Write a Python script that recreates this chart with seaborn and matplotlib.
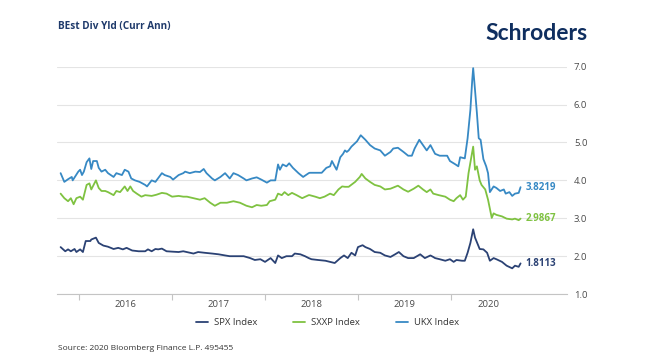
import matplotlib
matplotlib.use("Agg")
import matplotlib.pyplot as plt
import seaborn as sns
import pandas as pd
from matplotlib.lines import Line2D

# ---------------- data (decimal years, yield %) ----------------
ukx_t = [2015.80, 2015.84, 2015.88, 2015.92, 2015.93, 2015.99, 2016.01, 2016.03, 2016.05, 2016.08,
         2016.11, 2016.13, 2016.15, 2016.19, 2016.21, 2016.24, 2016.28, 2016.31, 2016.37, 2016.40,
         2016.46, 2016.49, 2016.53, 2016.56, 2016.60, 2016.65, 2016.71, 2016.73, 2016.78, 2016.82,
         2016.89, 2016.92, 2016.98, 2017.01, 2017.07, 2017.12, 2017.14, 2017.19, 2017.25, 2017.30,
         2017.34, 2017.37, 2017.43, 2017.46, 2017.52, 2017.57, 2017.62, 2017.66, 2017.71, 2017.77,
         2017.80, 2017.86, 2017.91, 2017.96, 2018.02, 2018.06, 2018.11, 2018.14, 2018.16, 2018.19,
         2018.23, 2018.26, 2018.30, 2018.36, 2018.41, 2018.47, 2018.48, 2018.61, 2018.66, 2018.70,
         2018.72, 2018.75, 2018.77, 2018.81, 2018.84, 2018.86, 2018.88, 2018.90, 2018.93, 2018.99,
         2019.03, 2019.08, 2019.13, 2019.18, 2019.24, 2019.29, 2019.35, 2019.38, 2019.43, 2019.49,
         2019.54, 2019.58, 2019.61, 2019.66, 2019.70, 2019.74, 2019.78, 2019.83, 2019.88, 2019.96,
         2019.99, 2020.05, 2020.08, 2020.10, 2020.15, 2020.18, 2020.21, 2020.23, 2020.24, 2020.26,
         2020.28, 2020.30, 2020.32, 2020.35, 2020.38, 2020.40, 2020.42, 2020.46, 2020.49, 2020.53,
         2020.57, 2020.59, 2020.63, 2020.66, 2020.69, 2020.73, 2020.75]
ukx_v = [4.19, 3.96, 4.03, 4.09, 4.00, 4.23, 4.28, 4.14, 4.23, 4.48,
         4.58, 4.30, 4.51, 4.51, 4.33, 4.23, 4.28, 4.19, 4.09, 4.19,
         4.14, 4.28, 4.23, 4.05, 4.00, 3.96, 3.88, 3.84, 4.00, 3.96,
         4.19, 4.14, 4.09, 4.02, 4.14, 4.19, 4.23, 4.19, 4.23, 4.22,
         4.30, 4.19, 4.05, 4.00, 4.09, 4.19, 4.05, 4.19, 4.14, 4.05,
         4.00, 4.05, 4.08, 4.02, 3.94, 4.00, 4.00, 4.42, 4.28, 4.42,
         4.37, 4.45, 4.33, 4.19, 4.09, 4.19, 4.20, 4.20, 4.33, 4.37,
         4.51, 4.37, 4.28, 4.61, 4.70, 4.79, 4.75, 4.79, 4.89, 5.03,
         5.19, 5.07, 4.93, 4.84, 4.79, 4.65, 4.75, 4.84, 4.86, 4.75,
         4.65, 4.65, 4.84, 5.07, 4.93, 4.79, 4.93, 4.70, 4.65, 4.65,
         4.51, 4.42, 4.37, 4.61, 4.58, 5.11, 5.86, 6.65, 6.96, 6.38,
         5.78, 5.11, 5.07, 4.56, 4.37, 4.19, 3.69, 3.84, 3.80, 3.72,
         3.76, 3.65, 3.69, 3.59, 3.65, 3.67, 3.82]

sxxp_t = [2015.80, 2015.84, 2015.88, 2015.91, 2015.94, 2015.97, 2016.01, 2016.04, 2016.08, 2016.11,
          2016.13, 2016.18, 2016.21, 2016.24, 2016.28, 2016.31, 2016.37, 2016.40, 2016.44, 2016.49,
          2016.52, 2016.55, 2016.58, 2016.62, 2016.67, 2016.71, 2016.78, 2016.83, 2016.89, 2016.94,
          2017.00, 2017.07, 2017.12, 2017.16, 2017.23, 2017.30, 2017.35, 2017.41, 2017.46, 2017.52,
          2017.59, 2017.66, 2017.73, 2017.80, 2017.86, 2017.91, 2017.96, 2018.02, 2018.05, 2018.11,
          2018.14, 2018.18, 2018.21, 2018.25, 2018.29, 2018.34, 2018.40, 2018.47, 2018.48, 2018.54,
          2018.59, 2018.64, 2018.70, 2018.74, 2018.79, 2018.83, 2018.86, 2018.90, 2018.97, 2019.02,
          2019.04, 2019.08, 2019.13, 2019.18, 2019.24, 2019.29, 2019.35, 2019.40, 2019.43, 2019.49,
          2019.54, 2019.60, 2019.65, 2019.70, 2019.74, 2019.78, 2019.81, 2019.87, 2019.94, 2019.99,
          2020.03, 2020.06, 2020.10, 2020.13, 2020.16, 2020.19, 2020.21, 2020.24, 2020.26, 2020.28,
          2020.31, 2020.33, 2020.37, 2020.40, 2020.44, 2020.46, 2020.49, 2020.55, 2020.60, 2020.66,
          2020.69, 2020.73, 2020.75]
sxxp_v = [3.65, 3.53, 3.45, 3.53, 3.37, 3.53, 3.57, 3.49, 3.88, 3.92,
          3.76, 4.00, 3.80, 3.72, 3.72, 3.69, 3.61, 3.72, 3.69, 3.84,
          3.72, 3.84, 3.72, 3.65, 3.57, 3.61, 3.59, 3.62, 3.67, 3.65,
          3.57, 3.59, 3.57, 3.57, 3.53, 3.49, 3.53, 3.41, 3.33, 3.41,
          3.41, 3.45, 3.41, 3.33, 3.29, 3.35, 3.33, 3.35, 3.45, 3.49,
          3.65, 3.61, 3.69, 3.61, 3.67, 3.61, 3.53, 3.61, 3.61, 3.57,
          3.53, 3.57, 3.65, 3.61, 3.76, 3.84, 3.83, 3.83, 3.96, 4.09,
          4.17, 4.05, 3.96, 3.88, 3.84, 3.76, 3.78, 3.83, 3.86, 3.76,
          3.70, 3.78, 3.86, 3.76, 3.69, 3.76, 3.65, 3.61, 3.57, 3.49,
          3.45, 3.53, 3.61, 3.49, 3.57, 4.19, 4.47, 4.89, 4.28, 4.37,
          4.00, 3.88, 3.76, 3.49, 3.01, 3.13, 3.09, 3.05, 2.99, 2.97,
          2.99, 2.95, 2.99]

spx_t = [2015.80, 2015.85, 2015.88, 2015.91, 2015.95, 2015.97, 2016.01, 2016.04, 2016.07, 2016.12,
         2016.13, 2016.18, 2016.21, 2016.26, 2016.31, 2016.37, 2016.42, 2016.47, 2016.51, 2016.57,
         2016.64, 2016.71, 2016.74, 2016.78, 2016.82, 2016.85, 2016.89, 2016.94, 2017.00, 2017.07,
         2017.12, 2017.23, 2017.28, 2017.35, 2017.43, 2017.50, 2017.57, 2017.62, 2017.70, 2017.77,
         2017.84, 2017.89, 2017.95, 2018.00, 2018.06, 2018.11, 2018.14, 2018.18, 2018.23, 2018.29,
         2018.32, 2018.38, 2018.43, 2018.47, 2018.50, 2018.57, 2018.65, 2018.70, 2018.75, 2018.81,
         2018.85, 2018.89, 2018.93, 2018.97, 2019.00, 2019.05, 2019.08, 2019.13, 2019.18, 2019.24,
         2019.29, 2019.35, 2019.40, 2019.44, 2019.49, 2019.54, 2019.60, 2019.67, 2019.72, 2019.78,
         2019.81, 2019.83, 2019.88, 2019.94, 2019.99, 2020.03, 2020.06, 2020.12, 2020.15, 2020.18,
         2020.21, 2020.24, 2020.26, 2020.29, 2020.31, 2020.35, 2020.39, 2020.42, 2020.46, 2020.49,
         2020.55, 2020.60, 2020.66, 2020.69, 2020.73, 2020.75]
spx_v = [2.24, 2.13, 2.18, 2.13, 2.19, 2.11, 2.18, 2.11, 2.40, 2.40,
         2.44, 2.49, 2.35, 2.28, 2.25, 2.19, 2.22, 2.18, 2.22, 2.15,
         2.13, 2.13, 2.18, 2.13, 2.19, 2.18, 2.20, 2.13, 2.12, 2.11,
         2.13, 2.07, 2.11, 2.09, 2.07, 2.05, 2.02, 2.00, 2.00, 2.00,
         1.95, 1.90, 1.92, 1.85, 1.95, 1.82, 2.02, 1.95, 2.00, 2.00,
         2.07, 2.05, 2.00, 1.95, 1.92, 1.90, 1.88, 1.85, 1.82, 1.95,
         2.02, 1.95, 2.09, 2.02, 2.24, 2.29, 2.24, 2.19, 2.11, 2.09,
         2.02, 1.98, 2.05, 2.11, 2.00, 1.95, 1.95, 2.05, 1.95, 2.02,
         1.98, 1.95, 1.92, 1.88, 1.92, 1.85, 1.90, 1.88, 1.88, 2.09,
         2.35, 2.71, 2.49, 2.31, 2.19, 2.18, 2.09, 1.88, 1.95, 1.92,
         1.85, 1.75, 1.68, 1.75, 1.72, 1.81]

series_names = ["SPX Index", "SXXP Index", "UKX Index"]
last_labels = ["1.8113", "2.9867", "3.8219"]
year_labels = ["2016", "2017", "2018", "2019", "2020"]
y_ticks = [1.0, 2.0, 3.0, 4.0, 5.0, 6.0, 7.0]

colors = {"SPX Index": "#2b4274", "SXXP Index": "#7fc241", "UKX Index": "#3789c4"}

df = pd.concat([
    pd.DataFrame({"t": spx_t, "value": spx_v, "series": series_names[0]}),
    pd.DataFrame({"t": sxxp_t, "value": sxxp_v, "series": series_names[1]}),
    pd.DataFrame({"t": ukx_t, "value": ukx_v, "series": series_names[2]}),
], ignore_index=True)

# ---------------- plot ----------------
sns.set_theme(style="white")
plt.rcParams["font.family"] = ["Open Sans", "DejaVu Sans"]

fig = plt.figure(figsize=(6.54, 3.64), dpi=100)
ax = fig.add_axes([0.087, 0.192, 0.780, 0.625])

sns.lineplot(data=df, x="t", y="value", hue="series", palette=colors,
             hue_order=series_names, estimator=None, linewidth=1.3, ax=ax, legend=False)

ax.set_xlim(2015.76, 2021.25)
ax.set_ylim(1.0, 7.0)
ax.set_xlabel("")
ax.set_ylabel("")

# grid
ax.set_yticks(y_ticks)
ax.set_yticklabels([f"{v:.1f}" for v in y_ticks])
ax.yaxis.tick_right()
ax.tick_params(axis="y", length=0, pad=5, labelsize=6.8, labelcolor="#4a4a4a")
ax.grid(axis="y", color="#e4e4e4", linewidth=0.8)
ax.grid(axis="x", visible=False)
for s in ["top", "left", "right"]:
    ax.spines[s].set_visible(False)
ax.spines["bottom"].set_color("#c4c4c4")
ax.spines["bottom"].set_linewidth(0.8)

# x ticks: marks at year starts, labels centred in each year
year_starts = [int(y) for y in year_labels]
ax.set_xticks(year_starts)
ax.set_xticklabels([])
ax.tick_params(axis="x", which="major", direction="out", length=4, width=0.8,
               color="#c4c4c4", bottom=True)
label_pos = [y + 0.5 for y in year_starts[:-1]] + [year_starts[-1] + 0.4]
ax.set_xticks(label_pos, minor=True)
ax.set_xticklabels(year_labels, minor=True)
ax.tick_params(axis="x", which="minor", length=0, pad=4, labelsize=6.8, labelcolor="#4a4a4a")

# end-value labels
ends = [(spx_t[-1], spx_v[-1]), (sxxp_t[-1], sxxp_v[-1]), (ukx_t[-1], ukx_v[-1])]
for name, lab, (tx, vy) in zip(series_names, last_labels, ends):
    ax.text(tx + 0.05, vy, lab, color=colors[name], fontsize=7, fontweight="bold",
            va="center", ha="left")

# legend
handles = [Line2D([0], [0], color=colors[n], lw=1.3) for n in series_names]
leg = ax.legend(handles, series_names, loc="center", bbox_to_anchor=(0.53, -0.125),
                ncol=3, frameon=False, fontsize=6.8, handlelength=1.3, handletextpad=0.6,
                columnspacing=3.8)
for t in leg.get_texts():
    t.set_color("#333333")

# titles and source
fig.text(58 / 654, 1 - 27 / 364, "BEst Div Yld (Curr Ann)", fontsize=7.2, fontweight="bold",
         color="#1f3a6b", va="center", ha="left")
fig.text(588 / 654, 1 - 33 / 364, "Schroders", fontsize=16.5, fontweight="bold",
         color="#0f2e5f", va="center", ha="right", family=["Lato", "DejaVu Sans"])
fig.text(58 / 654, 1 - 349 / 364, "Source: 2020 Bloomberg Finance L.P. 495455", fontsize=6,
         color="#333333", va="center", ha="left")

fig.savefig("out.png", dpi=100)
